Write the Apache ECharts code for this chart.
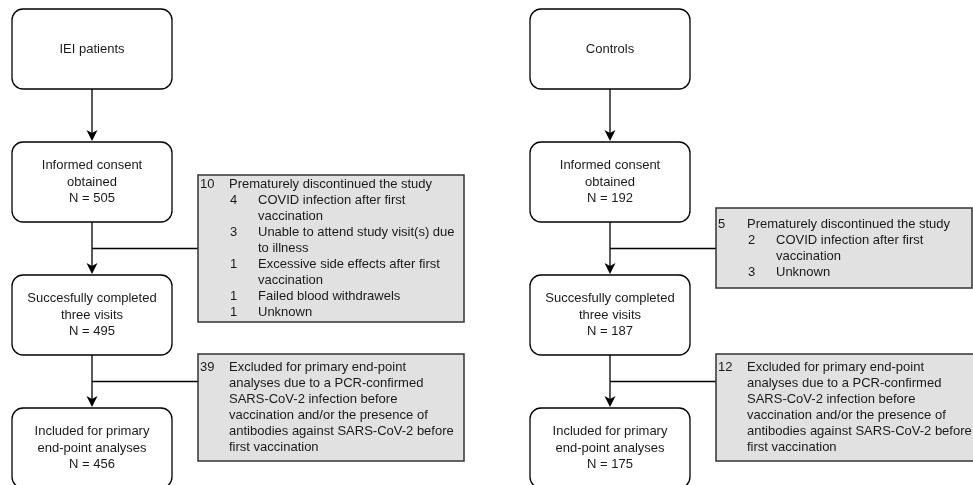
<!DOCTYPE html>
<html>
<head>
<meta charset="utf-8">
<script src="https://cdn.jsdelivr.net/npm/echarts@6/dist/echarts.min.js"></script>
<style>html,body{margin:0;padding:0;background:#fff}#c{width:973px;height:485px}</style>
</head>
<body>
<div id="c"></div>
<script>
// ---- data ----
const groups = ['IEI patients', 'Controls'];
const consentN = [505, 192];
const completedN = [495, 187];
const includedN = [456, 175];
const discontinuedN = [10, 5];
const discontinuedLabel = 'Prematurely discontinued the study';
const discontinuedReasons = [
  [[4, 'COVID infection after first\nvaccination'],
   [3, 'Unable to attend study visit(s) due\nto illness'],
   [1, 'Excessive side effects after first\nvaccination'],
   [1, 'Failed blood withdrawels'],
   [1, 'Unknown']],
  [[2, 'COVID infection after first\nvaccination'],
   [3, 'Unknown']]
];
const excludedN = [39, 12];
const excludedText = 'Excluded for primary end-point\nanalyses due to a PCR-confirmed\nSARS-CoV-2 infection before\nvaccination and/or the presence of\nantibodies against SARS-CoV-2 before\nfirst vaccination';
const stepLabels = ['Informed consent\nobtained', 'Succesfully completed\nthree visits', 'Included for primary\nend-point analyses'];

// ---- layout (styling / positions) ----
const colX = [92, 610];
const boxW = 160, boxH = 80, radius = 11;
const rowTop = [9, 142, 275, 408];
const sideLeft = [198, 716];
const side1 = [{top: 175, h: 147, w: 266}, {top: 208, h: 80, w: 256}];
const side2 = [{top: 354, h: 107, w: 266}, {top: 354, h: 107, w: 266}];
const lineH = 16;
const FONT = '13px "Liberation Sans", Arial, sans-serif';
const TXT = '#1a1a1a';

const chart = echarts.init(document.getElementById('c'), null, {renderer: 'canvas'});

function renderItem(params, api) {
  const g = params.dataIndex;
  const P = (x, y) => api.coord([x, y]);
  const kids = [];
  const cx = colX[g];

  function rbox(top, lines) {
    const a = P(cx - boxW / 2, top), b = P(cx + boxW / 2, top + boxH);
    kids.push({type: 'rect', shape: {x: a[0], y: a[1], width: b[0] - a[0], height: b[1] - a[1], r: radius},
      style: {fill: '#fff', stroke: '#000', lineWidth: 1.3}});
    const n = lines.length;
    const c = top + boxH / 2;
    lines.forEach((t, i) => {
      const p = P(cx, c - (n - 1) * 16.5 / 2 + i * 16.5);
      kids.push({type: 'text', x: p[0], y: p[1], style: {text: t, font: FONT, fill: TXT, align: 'center', verticalAlign: 'middle'}});
    });
  }
  function arrow(y0, y1) {
    const a = P(cx, y0), b = P(cx, y1 - 6);
    kids.push({type: 'line', shape: {x1: a[0], y1: a[1], x2: b[0], y2: b[1]}, style: {stroke: '#000', lineWidth: 1.3}});
    const t = P(cx, y1 - 1);
    kids.push({type: 'polygon', shape: {points: [[t[0], t[1]], [t[0] - 5.5, t[1] - 11], [t[0], t[1] - 8], [t[0] + 5.5, t[1] - 11]]},
      style: {fill: '#000'}});
  }
  function connector(y) {
    const a = P(cx, y), b = P(sideLeft[g], y);
    kids.push({type: 'line', shape: {x1: a[0], y1: a[1], x2: b[0], y2: b[1]}, style: {stroke: '#000', lineWidth: 1.3}});
  }
  function sbox(spec, rows) {
    const a = P(sideLeft[g], spec.top), b = P(sideLeft[g] + spec.w, spec.top + spec.h);
    kids.push({type: 'rect', shape: {x: a[0], y: a[1], width: b[0] - a[0], height: b[1] - a[1]},
      style: {fill: '#e1e1e1', stroke: '#333', lineWidth: 1.5}});
    const n = rows.length;
    const c = spec.top + spec.h / 2;
    rows.forEach((r, i) => {
      const y = c - (n - 1) * lineH / 2 + i * lineH;
      if (r[0] !== '') {
        const p = P(sideLeft[g] + r[2], y);
        kids.push({type: 'text', x: p[0], y: p[1], style: {text: String(r[0]), font: FONT, fill: TXT, align: 'left', verticalAlign: 'middle'}});
      }
      const q = P(sideLeft[g] + r[3], y);
      kids.push({type: 'text', x: q[0], y: q[1], style: {text: r[1], font: FONT, fill: TXT, align: 'left', verticalAlign: 'middle'}});
    });
  }

  // main boxes
  rbox(rowTop[0], [groups[g]]);
  rbox(rowTop[1], stepLabels[0].split('\n').concat(['N = ' + consentN[g]]));
  rbox(rowTop[2], stepLabels[1].split('\n').concat(['N = ' + completedN[g]]));
  rbox(rowTop[3], stepLabels[2].split('\n').concat(['N = ' + includedN[g]]));
  // arrows
  arrow(rowTop[0] + boxH, rowTop[1]);
  arrow(rowTop[1] + boxH, rowTop[2]);
  arrow(rowTop[2] + boxH, rowTop[3]);
  // connectors
  connector((rowTop[1] + boxH + rowTop[2]) / 2);
  connector((rowTop[2] + boxH + rowTop[3]) / 2);

  // side box 1 rows: [number, text, numberX, textX]
  const rows1 = [[discontinuedN[g], discontinuedLabel, 2, 31]];
  discontinuedReasons[g].forEach(r => {
    r[1].split('\n').forEach((t, i) => rows1.push([i === 0 ? r[0] : '', t, 32, 60]));
  });
  sbox(side1[g], rows1);
  const rows2 = [];
  excludedText.split('\n').forEach((t, i) => rows2.push([i === 0 ? excludedN[g] : '', t, 2, 31]));
  sbox(side2[g], rows2);

  return {type: 'group', children: kids};
}

chart.setOption({
  animation: false,
  backgroundColor: '#fff',
  grid: {left: 0, right: 0, top: 0, bottom: 0},
  xAxis: {type: 'value', min: 0, max: 973, show: false},
  yAxis: {type: 'value', min: 0, max: 485, inverse: true, show: false},
  series: [{
    type: 'custom',
    clip: false,
    renderItem: renderItem,
    data: groups.map((name, i) => [colX[i], rowTop[0], i])
  }]
});
</script>
</body>
</html>
